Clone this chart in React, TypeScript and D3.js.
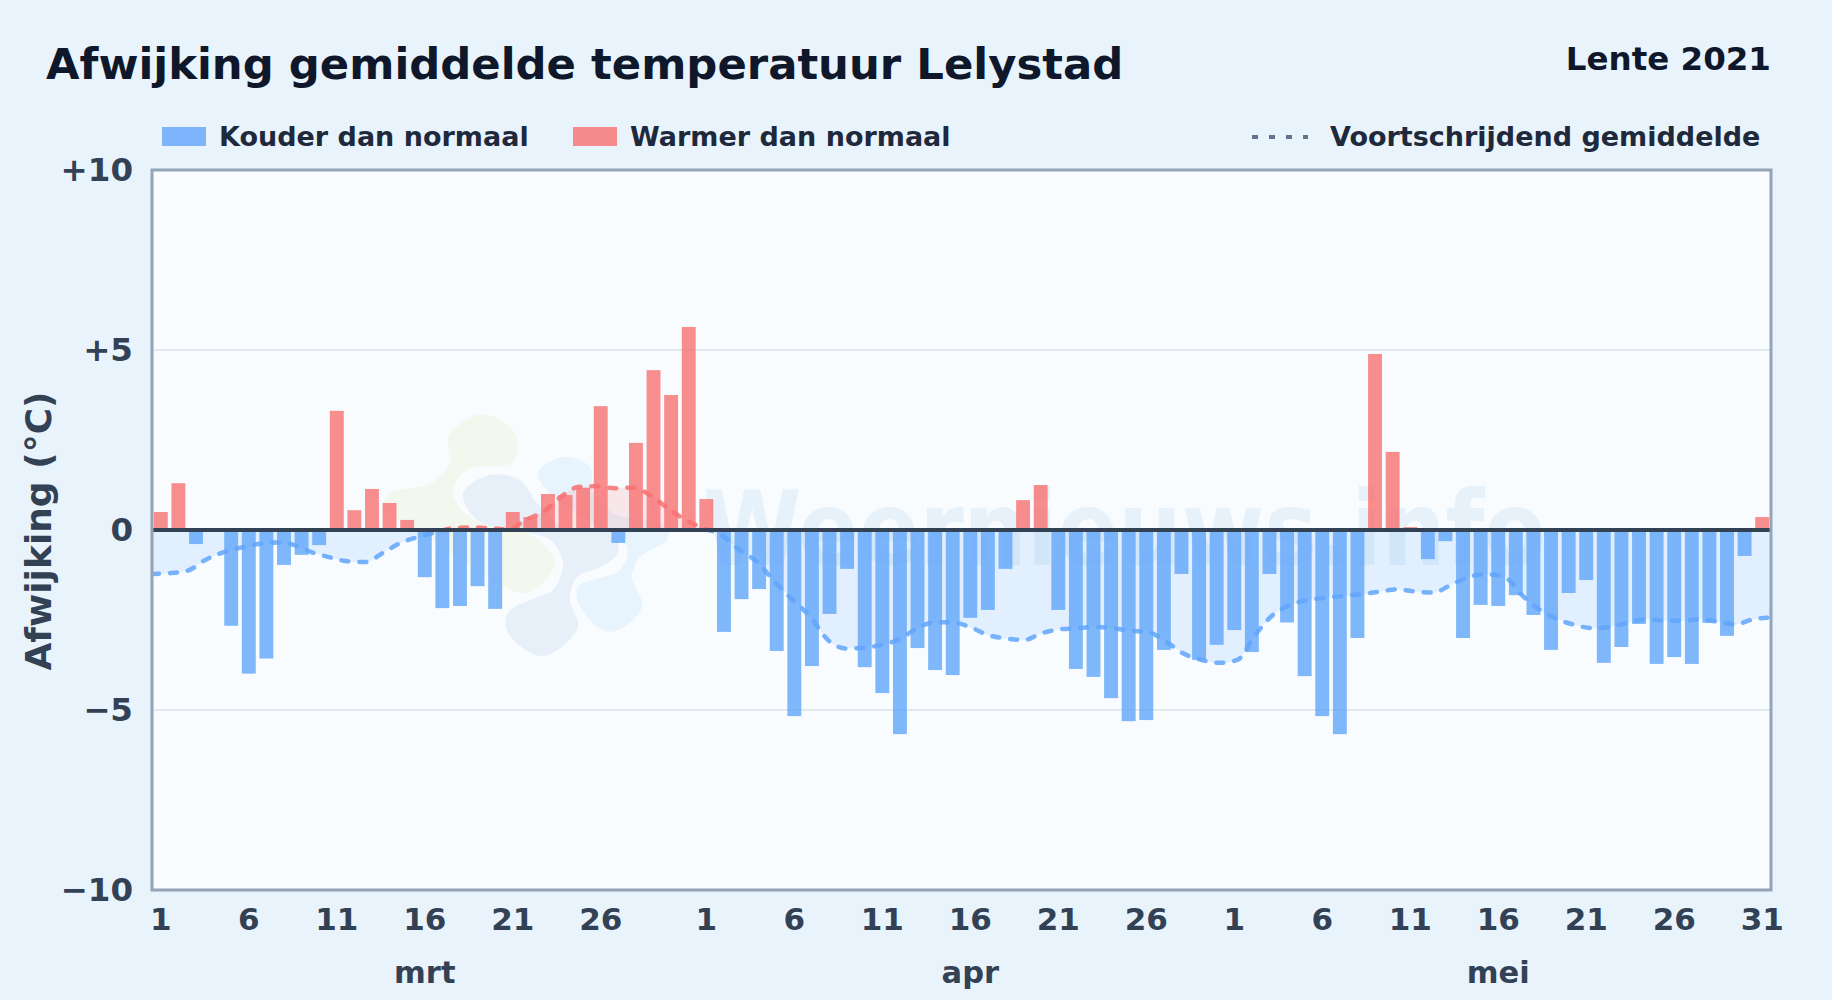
import { useEffect, useRef } from 'react';
import * as d3 from 'd3';

// ─── Data ───────────────────────────────────────────────────

const marchValues = [
  0.5, 1.3, -0.39, -0.02, -2.66, -3.99, -3.57, -0.97, -0.69, -0.42, 3.31, 0.55, 1.14, 0.75, 0.28, -1.31,
  -2.17, -2.11, -1.56, -2.19, 0.5, 0.36, 1.0, 0.97, 1.17, 3.44, -0.36, 2.42, 4.44, 3.75, 5.64,
];
const aprilValues = [
  0.86, -2.83, -1.92, -1.64, -3.36, -5.17, -3.78, -2.33, -1.08, -3.81, -4.53, -5.67, -3.28, -3.89, -4.03,
  -2.44, -2.22, -1.08, 0.83, 1.25, -2.22, -3.86, -4.08, -4.67, -5.31, -5.28, -3.33, -1.22, -3.61, -3.19,
];
const mayValues = [
  -2.78, -3.39, -1.22, -2.57, -4.06, -5.17, -5.67, -3.0, 4.89, 2.17, 0.08, -0.81, -0.31, -3.0, -2.08, -2.11,
  -1.81, -2.36, -3.33, -1.75, -1.39, -3.69, -3.25, -2.61, -3.72, -3.53, -3.72, -2.58, -2.94, -0.72, 0.36,
];
const movingAverage = [
  -1.22, -1.2, -1.13, -0.83, -0.62, -0.49, -0.39, -0.35, -0.42, -0.62, -0.76, -0.87, -0.89, -0.63, -0.35, -0.19,
  -0.06, 0.06, 0.07, 0.05, 0.02, 0.28, 0.51, 0.93, 1.2, 1.22, 1.16, 1.18, 0.97, 0.6, 0.28, 0.05,
  -0.14, -0.55, -0.88, -1.44, -1.94, -2.41, -3.06, -3.29, -3.27, -3.19, -3.04, -2.73, -2.56, -2.57, -2.7, -2.92,
  -3.01, -3.06, -2.87, -2.76, -2.73, -2.69, -2.73, -2.8, -2.84, -3.1, -3.44, -3.61, -3.69, -3.61, -2.92, -2.36,
  -2.08, -1.94, -1.88, -1.83, -1.78, -1.71, -1.65, -1.71, -1.74, -1.53, -1.31, -1.23, -1.3, -1.81, -2.22, -2.48,
  -2.64, -2.73, -2.69, -2.57, -2.48, -2.52, -2.52, -2.48, -2.55, -2.62, -2.48, -2.43,
];
const months = ['mrt', 'apr', 'mei'];
const monthLengths = [31, 30, 31];
const dayTicks = [1, 6, 11, 16, 21, 26];
const yTicks = [10, 5, 0, -5, -10];

// ─── Layout ─────────────────────────────────────────────────

const WIDTH = 1832;
const HEIGHT = 1000;
const margin = { top: 170, right: 61, bottom: 110, left: 152 };
const FONT = '"DejaVu Sans", sans-serif';

const BLUE = '#60a5fa';
const RED = '#f87171';

// Watermark logo outline (pale blobs behind the bars)
const logoBlobs: { fill: string; points: [number, number][] }[] = [
  {
    fill: '#f3f8ee',
    points: [
      [448, 437], [482, 414], [515, 433], [513, 462], [467, 470], [453, 493], [474, 520], [528, 533],
      [555, 563], [528, 593], [505, 587], [421, 533], [383, 507], [390, 493], [432, 483], [450, 460],
    ],
  },
  {
    fill: '#e7f0f9',
    points: [
      [463, 493], [490, 475], [520, 480], [537, 503], [567, 530], [613, 533], [618, 553], [600, 567],
      [577, 577], [570, 600], [578, 627], [543, 656], [508, 633], [508, 613], [537, 597], [553, 590],
      [563, 563], [550, 540], [513, 530], [477, 520],
    ],
  },
  {
    fill: '#e8f4fd',
    points: [
      [538, 473], [563, 457], [590, 467], [593, 493], [613, 513], [667, 527], [667, 540], [640, 557],
      [632, 577], [642, 607], [610, 632], [580, 607], [578, 587], [620, 570], [627, 547], [593, 523], [553, 497],
    ],
  },
];

// ─── Component ──────────────────────────────────────────────

export default function App() {
  const svgRef = useRef<SVGSVGElement>(null);

  useEffect(() => {
    if (!svgRef.current) return;
    const svg = d3.select(svgRef.current);
    svg.selectAll('*').remove();

    const right = WIDTH - margin.right;
    const bottom = HEIGHT - margin.bottom;

    const values = [...marchValues, ...aprilValues, ...mayValues];
    const days = d3.range(values.length);

    const x = d3.scaleBand<number>().domain(days).range([margin.left, right]).paddingInner(0.21).paddingOuter(0.105);
    const xLine = d3.scalePoint<number>().domain(days).range([margin.left, right]);
    const y = d3.scaleLinear().domain([-10, 10]).range([bottom, margin.top]);
    const xCenter = (d: number) => x(d)! + x.bandwidth() / 2;

    svg.append('rect').attr('width', WIDTH).attr('height', HEIGHT).attr('fill', '#e8f3fc');

    // Title
    svg.append('text')
      .attr('x', 46).attr('y', 79)
      .style('font-size', '43.35px').style('font-weight', 700).style('fill', '#0f172a')
      .text('Afwijking gemiddelde temperatuur Lelystad');
    svg.append('text')
      .attr('x', 1771).attr('y', 70).attr('text-anchor', 'end')
      .style('font-size', '32.5px').style('font-weight', 700).style('fill', '#0f172a')
      .text('Lente 2021');

    // Legend
    const legend = svg.append('g').style('font-size', '27px').style('font-weight', 700).style('fill', '#1e293b');
    legend.append('rect').attr('x', 162).attr('y', 127).attr('width', 44).attr('height', 19)
      .attr('fill', BLUE).attr('opacity', 0.8);
    legend.append('text').attr('x', 219).attr('y', 146).text('Kouder dan normaal');
    legend.append('rect').attr('x', 573).attr('y', 127).attr('width', 44).attr('height', 19)
      .attr('fill', RED).attr('opacity', 0.8);
    legend.append('text').attr('x', 630).attr('y', 146).text('Warmer dan normaal');
    legend.append('line').attr('x1', 1252).attr('x2', 1308).attr('y1', 137).attr('y2', 137)
      .attr('stroke', '#64748b').attr('stroke-width', 4).attr('stroke-dasharray', '6 11');
    legend.append('text').attr('x', 1330).attr('y', 146).text('Voortschrijdend gemiddelde');

    // Plot background
    svg.append('rect')
      .attr('x', margin.left).attr('y', margin.top)
      .attr('width', right - margin.left).attr('height', bottom - margin.top)
      .attr('fill', '#f8fcff');

    // Watermark
    const blobLine = d3.line().curve(d3.curveCatmullRomClosed.alpha(0.5));
    svg.append('g').selectAll('path').data(logoBlobs).join('path')
      .attr('d', (d) => blobLine(d.points))
      .attr('fill', (d) => d.fill);
    svg.append('text')
      .attr('transform', 'translate(703,565) scale(1,1.15)')
      .style('font-size', '89.3px').style('font-weight', 700).style('fill', '#1d6fc4').style('opacity', 0.07)
      .text('Weernieuws.info');

    // Grid
    svg.append('g').selectAll('line').data([5, -5]).join('line')
      .attr('x1', margin.left).attr('x2', right)
      .attr('y1', (d) => y(d)).attr('y2', (d) => y(d))
      .attr('stroke', '#e2e8f0').attr('stroke-width', 2);

    // Clip regions above / below zero
    const defs = svg.append('defs');
    defs.append('clipPath').attr('id', 'above-zero').append('rect')
      .attr('x', margin.left).attr('y', margin.top)
      .attr('width', right - margin.left).attr('height', y(0) - margin.top);
    defs.append('clipPath').attr('id', 'below-zero').append('rect')
      .attr('x', margin.left).attr('y', y(0))
      .attr('width', right - margin.left).attr('height', bottom - y(0));

    // Area between zero and the moving average
    const area = d3.area<number>()
      .x((_, i) => xLine(i)!)
      .y0(y(0))
      .y1((d) => y(d))
      .curve(d3.curveMonotoneX);
    svg.append('path').datum(movingAverage).attr('d', area)
      .attr('fill', BLUE).attr('opacity', 0.15).attr('clip-path', 'url(#below-zero)');
    svg.append('path').datum(movingAverage).attr('d', area)
      .attr('fill', RED).attr('opacity', 0.15).attr('clip-path', 'url(#above-zero)');

    // Bars
    svg.append('g').selectAll('rect').data(values).join('rect')
      .attr('x', (_, i) => x(i)!)
      .attr('width', x.bandwidth())
      .attr('y', (d) => Math.min(y(d), y(0)))
      .attr('height', (d) => Math.abs(y(d) - y(0)))
      .attr('fill', (d) => (d >= 0 ? RED : BLUE))
      .attr('opacity', 0.8);

    // Moving average, coloured by sign
    const line = d3.line<number>()
      .x((_, i) => xLine(i)!)
      .y((d) => y(d))
      .curve(d3.curveMonotoneX);
    [['below-zero', BLUE], ['above-zero', RED]].forEach(([clip, colour]) => {
      svg.append('path').datum(movingAverage).attr('d', line)
        .attr('fill', 'none').attr('stroke', colour).attr('stroke-width', 4.5)
        .attr('stroke-dasharray', '7 11').attr('stroke-linecap', 'round')
        .attr('opacity', 0.85)
        .attr('clip-path', `url(#${clip})`);
    });

    // Zero line and frame
    svg.append('line')
      .attr('x1', margin.left).attr('x2', right).attr('y1', y(0)).attr('y2', y(0))
      .attr('stroke', '#334155').attr('stroke-width', 4);
    svg.append('rect')
      .attr('x', margin.left).attr('y', margin.top)
      .attr('width', right - margin.left).attr('height', bottom - margin.top)
      .attr('fill', 'none').attr('stroke', '#94a3b8').attr('stroke-width', 3);

    // Axes
    const yAxis = d3.axisLeft(y)
      .tickValues(yTicks)
      .tickSize(0)
      .tickPadding(19)
      .tickFormat((d) => {
        const v = +d;
        if (v === 0) return '0';
        return v > 0 ? `+${v}` : `\u2212${-v}`;
      });
    svg.append('g')
      .attr('transform', `translate(${margin.left},0)`)
      .call(yAxis)
      .call((g) => g.select('.domain').remove())
      .selectAll('text')
      .style('font-size', '32.5px').style('font-weight', 700).style('font-family', FONT).style('fill', '#334155');

    let offset = 0;
    const tickDays: number[] = [];
    const tickLabels = new Map<number, string>();
    monthLengths.forEach((len) => {
      const monthDays = len === 31 && offset > 0 ? [...dayTicks, 31] : dayTicks;
      monthDays.forEach((d) => {
        tickDays.push(offset + d - 1);
        tickLabels.set(offset + d - 1, String(d));
      });
      offset += len;
    });
    const xAxis = d3.axisBottom(x)
      .tickValues(tickDays)
      .tickSize(0)
      .tickPadding(18)
      .tickFormat((d) => tickLabels.get(d as number) ?? '');
    svg.append('g')
      .attr('transform', `translate(0,${bottom})`)
      .call(xAxis)
      .call((g) => g.select('.domain').remove())
      .selectAll('text')
      .style('font-size', '31px').style('font-weight', 700).style('font-family', FONT).style('fill', '#334155');

    // Month labels sit under the 16th of each month
    let start = 0;
    months.forEach((m, i) => {
      svg.append('text')
        .attr('x', xCenter(start + 15)).attr('y', 983).attr('text-anchor', 'middle')
        .style('font-size', '30.5px').style('font-weight', 700).style('fill', '#334155')
        .text(m);
      start += monthLengths[i];
    });

    // Y axis title
    svg.append('text')
      .attr('transform', `translate(51,${y(0) + 1}) rotate(-90)`)
      .attr('text-anchor', 'middle')
      .style('font-size', '36px').style('font-weight', 700).style('fill', '#334155')
      .text('Afwijking (°C)');
  }, []);

  return (
    <svg
      ref={svgRef}
      width={WIDTH}
      height={HEIGHT}
      style={{ position: 'fixed', left: 0, top: 0, fontFamily: FONT }}
    />
  );
}
